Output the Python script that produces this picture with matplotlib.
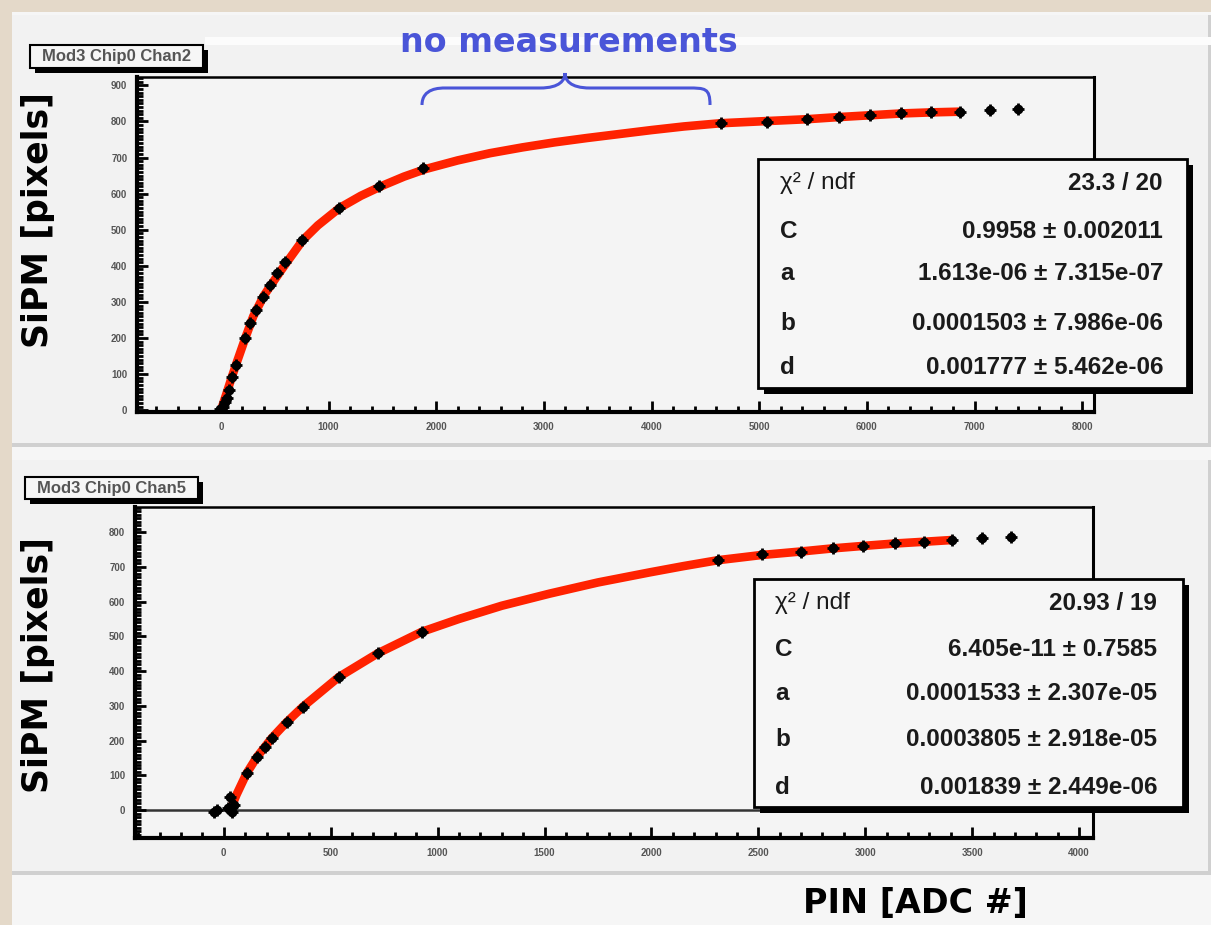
import matplotlib.pyplot as plt
from matplotlib.patches import Rectangle, PathPatch
from matplotlib.path import Path
from matplotlib.ticker import MultipleLocator

# --- data ---
# upper panel: Mod3 Chip0 Chan2
top_pts_x = [-10, 15, 35, 55, 75, 103, 140, 224, 271, 327, 393, 458, 523, 598, 757,
             1093, 1467, 1879, 4645, 5075, 5440, 5738, 6028, 6318, 6598, 6869, 7140, 7402]
top_pts_y = [3, 10, 22, 35, 55, 91, 125, 199, 241, 277, 313, 346, 379, 410, 471,
             560, 620, 670, 795, 798, 806, 812, 817, 822, 825, 826, 831, 834]
top_fit_x = [0, 50, 100, 150, 225, 300, 400, 500, 600, 760, 900, 1100, 1300, 1500, 1700,
             1900, 2200, 2500, 2800, 3100, 3400, 3700, 4000, 4300, 4645, 5075, 5440,
             5740, 6030, 6320, 6600, 6870]
top_fit_y = [0, 45, 91, 135, 199, 260, 318, 362, 405, 471, 512, 560, 594, 622, 647,
             668, 692, 712, 728, 742, 754, 765, 776, 786, 795, 801, 806, 812, 817,
             822, 825, 827]
top_stats = [("χ² / ndf", "23.3 / 20"),
             ("C", "0.9958 ± 0.002011"),
             ("a", "1.613e-06 ± 7.315e-07"),
             ("b", "0.0001503 ± 7.986e-06"),
             ("d", "0.001777 ± 5.462e-06")]

# lower panel: Mod3 Chip0 Chan5
bot_pts_x = [-45, -30, 20, 28, 40, 50, 107, 154, 192, 224, 294, 369, 538, 720, 926,
             2311, 2516, 2699, 2848, 2989, 3138, 3274, 3405, 3545, 3681]
bot_pts_y = [-5, 0, 5, 37, -5, 15, 106, 152, 181, 207, 253, 297, 383, 451, 513,
             719, 736, 743, 754, 760, 768, 772, 777, 783, 786]
bot_fit_x = [30, 60, 107, 154, 224, 294, 369, 538, 720, 926, 1100, 1300, 1525, 1750,
             1992, 2150, 2311, 2516, 2699, 2848, 2989, 3138, 3274, 3405]
bot_fit_y = [0, 45, 106, 152, 207, 253, 297, 383, 451, 513, 550, 588, 623, 655,
             684, 702, 719, 734, 744, 753, 760, 767, 772, 777]
bot_stats = [("χ² / ndf", "20.93 / 19"),
             ("C", "6.405e-11 ± 0.7585"),
             ("a", "0.0001533 ± 2.307e-05"),
             ("b", "0.0003805 ± 2.918e-05"),
             ("d", "0.001839 ± 2.449e-06")]

W, H = 1211, 925
fig = plt.figure(figsize=(W / 100, H / 100), dpi=100)
fig.patch.set_facecolor('#e4d9c9')


def fx(x):
    return x / W


def fy(y):
    return 1 - y / H


def box(x0, y0, x1, y1, **kw):
    r = Rectangle((fx(x0), fy(y1)), fx(x1) - fx(x0), fy(y0) - fy(y1),
                  transform=fig.transFigure, **kw)
    fig.patches.append(r)
    return r


# slide + ROOT canvas backgrounds
box(12, 12, W, H, facecolor='#f6f6f6', edgecolor='none', zorder=-3)
for (y0, y1) in [(15, 447), (460, 875)]:
    box(12, y0, W, y1, facecolor='#d0d0d0', edgecolor='none', zorder=-2)
    box(12, y0, W - 3, y1 - 4, facecolor='#f2f2f2', edgecolor='none', zorder=-2)
box(205, 37, W, 45, facecolor='#fcfcfc', edgecolor='none', zorder=-2)


def panel(rect, xlim, ylim, xmaj, xmin, ymaj, ymin, px, py, fx_, fy_, zero_line):
    x0, y0, x1, y1 = rect
    ax = fig.add_axes([fx(x0), fy(y1), fx(x1) - fx(x0), fy(y0) - fy(y1)])
    ax.set_facecolor('#f4f4f4')
    ax.set_xlim(*xlim)
    ax.set_ylim(*ylim)
    ax.xaxis.set_major_locator(MultipleLocator(xmaj))
    ax.xaxis.set_minor_locator(MultipleLocator(xmin))
    ax.yaxis.set_major_locator(MultipleLocator(ymaj))
    ax.yaxis.set_minor_locator(MultipleLocator(ymin))
    ax.tick_params(which='both', direction='in', colors='black', labelcolor='#555555',
                   labelsize=7, width=2)
    ax.tick_params(which='major', length=8, pad=7)
    ax.tick_params(which='minor', length=4)
    for lab in ax.get_xticklabels() + ax.get_yticklabels():
        lab.set_fontfamily('Liberation Sans')
        lab.set_fontweight('bold')
    ax.spines['left'].set_linewidth(3)
    ax.spines['bottom'].set_linewidth(3)
    ax.spines['top'].set_linewidth(1.8)
    ax.spines['right'].set_linewidth(2.2)
    if zero_line:
        ax.axhline(0, color='#333333', lw=1.8, zorder=1)
    ax.plot(fx_, fy_, color='#ff2200', lw=6.2, solid_capstyle='butt',
            solid_joinstyle='round', zorder=2)
    ax.plot(px, py, 'o', color='black', ms=6, zorder=3)
    ax.plot(px, py, '+', color='black', ms=9, mew=2, zorder=3)
    return ax


panel((137, 77, 1094, 412), (-780, 8110), (-5, 923), 1000, 200, 100, 10,
      top_pts_x, top_pts_y, top_fit_x, top_fit_y, False)
panel((135, 507, 1093, 838), (-415, 4065), (-80, 872), 500, 100, 100, 10,
      bot_pts_x, bot_pts_y, bot_fit_x, bot_fit_y, True)


def title_box(x0, y0, x1, y1, text):
    box(x0 + 5, y0 + 5, x1 + 5, y1 + 5, facecolor='black', edgecolor='none', zorder=2)
    box(x0, y0, x1, y1, facecolor='#f6f6f6', edgecolor='black', lw=1.5, zorder=2)
    fig.text(fx((x0 + x1) / 2), fy((y0 + y1) / 2), text, ha='center', va='center',
             fontsize=12, fontweight='bold', family='Liberation Sans',
             color='#555555', zorder=3)


title_box(30, 45, 203, 68, "Mod3 Chip0 Chan2")
title_box(25, 477, 198, 499, "Mod3 Chip0 Chan5")


def stats_box(x0, y0, x1, y1, rows, row_y, lab_x, val_x):
    box(x0 + 6, y0 + 6, x1 + 6, y1 + 6, facecolor='black', edgecolor='none', zorder=2)
    box(x0, y0, x1, y1, facecolor='#f6f6f6', edgecolor='black', lw=2, zorder=2)
    for i, ((lab, val), ry) in enumerate(zip(rows, row_y)):
        fig.text(fx(lab_x), fy(ry), lab, ha='left', va='center', fontsize=17.5,
                 fontweight='normal' if i == 0 else 'bold',
                 family='Liberation Sans', color='#1a1a1a', zorder=3)
        fig.text(fx(val_x), fy(ry), val, ha='right', va='center', fontsize=17.5,
                 fontweight='bold', family='Liberation Sans', color='#1a1a1a', zorder=3)


stats_box(758, 159, 1187, 388, top_stats, [183, 232, 273, 323, 368], 780, 1163)
stats_box(754, 579, 1183, 807, bot_stats, [603, 650, 693, 740, 788], 775, 1157)

# axis titles
for cy in (220, 665):
    fig.text(fx(38), fy(cy), "SiPM [pixels]", rotation=90, ha='center', va='center',
             fontsize=25, fontweight='bold', family='DejaVu Sans', color='black')
fig.text(fx(915), fy(903), "PIN [ADC #]", ha='center', va='center',
         fontsize=24, fontweight='bold', family='DejaVu Sans', color='black')

# annotation with brace
blue = '#4a55d8'
fig.text(fx(569), fy(42), "no measurements", ha='center', va='center',
         fontsize=24, fontweight='bold', family='DejaVu Sans', color=blue)
brace_px = [(422, 105), (422, 88), (440, 88), (445, 88),
            (540, 88),
            (560, 88), (565, 80), (565, 73),
            (565, 80), (570, 88), (590, 88),
            (688, 88),
            (705, 88), (710, 88), (710, 105)]
codes = [Path.MOVETO, Path.CURVE4, Path.CURVE4, Path.CURVE4,
         Path.LINETO,
         Path.CURVE4, Path.CURVE4, Path.CURVE4,
         Path.CURVE4, Path.CURVE4, Path.CURVE4,
         Path.LINETO,
         Path.CURVE4, Path.CURVE4, Path.CURVE4]
brace = Path([(fx(x), fy(y)) for x, y in brace_px], codes)
fig.patches.append(PathPatch(brace, transform=fig.transFigure, facecolor='none',
                             edgecolor=blue, lw=2.2, zorder=3))

fig.savefig('out.png', dpi=100, facecolor=fig.get_facecolor())
